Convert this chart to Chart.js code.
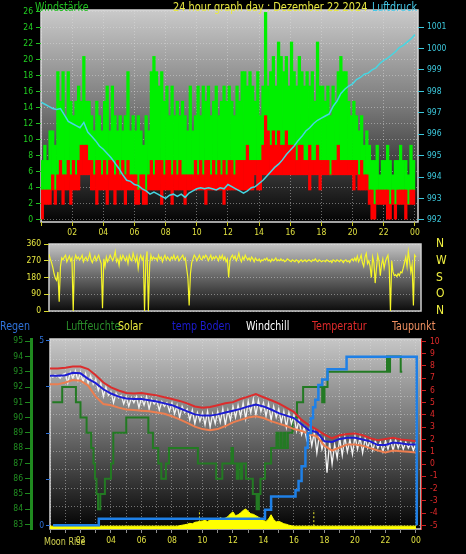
<!DOCTYPE html>
<html lang="de">
<head>
<meta charset="utf-8">
<title>24 hour graph day</title>
<script src="https://cdn.jsdelivr.net/npm/chart.js@4.4.1/dist/chart.umd.min.js"></script>
<style>
  html, body { margin: 0; padding: 0; background: #000; }
  #bild { position: relative; width: 466px; height: 554px; overflow: hidden;
          font-family: 'Liberation Sans Narrow', 'DejaVu Sans Condensed', 'Liberation Sans', sans-serif; }
  canvas { position: absolute; left: 0; }
  .txt { position: absolute; white-space: nowrap; font-size: 12.5px; line-height: 13px;
         transform: scaleX(0.85); transform-origin: left top; }
</style>
</head>
<body>
<div id="bild">
  <canvas id="wind-grafico" width="466" height="245" style="top:0"></canvas>
  <canvas id="richtung-grafico" width="466" height="80" style="top:238px"></canvas>
  <canvas id="wetter-grafico" width="466" height="224" style="top:330px"></canvas>

  <div class="txt" style="left:35px;top:0;color:#22c022">Windstärke</div>
  <div class="txt" style="left:173px;top:0;color:#e8e840;transform:scaleX(0.87)">24 hour graph day : Dezember 22 2024</div>
  <div class="txt" style="left:372px;top:0;color:#44c8e8">Luftdruck</div>

  <div class="txt" style="left:0;top:319px;color:#2f72d8">Regen</div>
  <div class="txt" style="left:66px;top:319px;color:#2a8c2a">Luftfeuchte</div>
  <div class="txt" style="left:118px;top:319px;color:#f0f040">Solar</div>
  <div class="txt" style="left:172px;top:319px;color:#1c1cd0">temp Boden</div>
  <div class="txt" style="left:246px;top:319px;color:#ffffff">Windchill</div>
  <div class="txt" style="left:312px;top:319px;color:#e02a2a">Temperatur</div>
  <div class="txt" style="left:392px;top:319px;color:#f09060">Taupunkt</div>

  <div class="txt" style="left:44px;top:535px;font-size:10.5px;color:#d0d050">Moon Rise</div>
</div>

<script>
const fuente = "'Liberation Sans Narrow', 'DejaVu Sans Condensed', 'Liberation Sans', sans-serif";
Chart.defaults.font.family = fuente;
Chart.defaults.font.size = 8.5;

// Beschriftungen
const stundenBeschriftung = ['', '02', '04', '06', '08', '10', '12', '14', '16', '18', '20', '22', '00'];
const richtungBeschriftung = ['N', 'O', 'S', 'W', 'N'];

// Wind in km/h, alle 10 Minuten
const windBoeen = [
    7.4, 9.3, 7.4, 11.1, 11.1, 9.3,
    18.5, 14.8, 18.5, 13, 18.5, 14.8,
    13, 14.8, 16.7, 14.8, 20.4, 14.8,
    14.8, 13, 11.1, 14.8, 13, 11.1,
    14.8, 16.7, 11.1, 16.7, 13, 11.1,
    13, 11.1, 13, 18.5, 11.1, 13,
    11.1, 13, 11.1, 9.3, 13, 11.1,
    18.5, 20.4, 18.5, 16.7, 18.5, 14.8,
    16.7, 13, 16.7, 13, 14.8, 13,
    14.8, 13, 11.1, 16.7, 11.1, 13,
    16.7, 13, 16.7, 14.8, 16.7, 13,
    14.8, 16.7, 13, 14.8, 16.7, 14.8,
    16.7, 14.8, 13, 16.7, 14.8, 18.5,
    18.5, 16.7, 18.5, 16.7, 14.8, 18.5,
    13, 16.7, 25.9, 16.7, 18.5, 20.4,
    16.7, 22.2, 20.4, 18.5, 20.4, 16.7,
    22.2, 18.5, 16.7, 20.4, 18.5, 16.7,
    18.5, 16.7, 18.5, 14.8, 22.2, 16.7,
    16.7, 14.8, 16.7, 13, 16.7, 14.8,
    18.5, 20.4, 18.5, 18.5, 14.8, 13,
    14.8, 13, 11.1, 13, 9.3, 11.1,
    9.3, 7.4, 7.4, 9.3, 5.6, 7.4,
    7.4, 9.3, 7.4, 5.6, 7.4, 7.4,
    9.3, 7.4, 7.4, 5.6, 9.3, 7.4
];
const windMittel = [
    3.7, 3.7, 3.7, 3.7, 5.6, 3.7,
    5.6, 7.4, 5.6, 5.6, 7.4, 5.6,
    7.4, 5.6, 7.4, 9.3, 9.3, 9.3,
    7.4, 7.4, 5.6, 7.4, 7.4, 5.6,
    7.4, 5.6, 7.4, 7.4, 5.6, 7.4,
    5.6, 7.4, 5.6, 7.4, 5.6, 5.6,
    5.6, 3.7, 5.6, 5.6, 3.7, 5.6,
    7.4, 5.6, 7.4, 7.4, 7.4, 5.6,
    7.4, 7.4, 5.6, 7.4, 5.6, 7.4,
    5.6, 5.6, 5.6, 5.6, 5.6, 7.4,
    5.6, 7.4, 5.6, 7.4, 7.4, 5.6,
    7.4, 5.6, 7.4, 5.6, 7.4, 5.6,
    7.4, 7.4, 5.6, 7.4, 7.4, 7.4,
    7.4, 9.3, 7.4, 7.4, 7.4, 7.4,
    7.4, 9.3, 13, 11.1, 9.3, 11.1,
    9.3, 11.1, 9.3, 9.3, 11.1, 9.3,
    9.3, 9.3, 7.4, 9.3, 9.3, 7.4,
    7.4, 9.3, 7.4, 7.4, 9.3, 7.4,
    7.4, 7.4, 7.4, 5.6, 7.4, 7.4,
    9.3, 7.4, 7.4, 7.4, 7.4, 7.4,
    7.4, 7.4, 5.6, 7.4, 5.6, 5.6,
    3.7, 3.7, 1.9, 3.7, 3.7, 3.7,
    3.7, 3.7, 1.9, 3.7, 1.9, 3.7,
    3.7, 3.7, 3.7, 1.9, 3.7, 3.7
];
const windFlaute = [
    0, 1.9, 1.9, 1.9, 3.7, 1.9,
    3.7, 3.7, 1.9, 3.7, 3.7, 1.9,
    3.7, 3.7, 3.7, 5.6, 5.6, 5.6,
    5.6, 3.7, 3.7, 1.9, 3.7, 3.7,
    3.7, 1.9, 3.7, 3.7, 1.9, 3.7,
    3.7, 3.7, 1.9, 3.7, 3.7, 3.7,
    1.9, 1.9, 3.7, 1.9, 1.9, 3.7,
    3.7, 3.7, 3.7, 3.7, 1.9, 3.7,
    3.7, 3.7, 1.9, 3.7, 3.7, 3.7,
    3.7, 1.9, 3.7, 3.7, 3.7, 3.7,
    3.7, 3.7, 3.7, 1.9, 3.7, 3.7,
    3.7, 3.7, 3.7, 3.7, 1.9, 3.7,
    3.7, 3.7, 3.7, 3.7, 3.7, 3.7,
    3.7, 3.7, 3.7, 3.7, 5.6, 3.7,
    3.7, 5.6, 5.6, 5.6, 5.6, 5.6,
    5.6, 5.6, 5.6, 5.6, 5.6, 5.6,
    5.6, 5.6, 5.6, 5.6, 5.6, 5.6,
    5.6, 3.7, 5.6, 5.6, 5.6, 3.7,
    5.6, 5.6, 5.6, 5.6, 5.6, 5.6,
    5.6, 5.6, 5.6, 5.6, 5.6, 5.6,
    3.7, 5.6, 3.7, 3.7, 3.7, 3.7,
    1.9, 0, 0, 1.9, 1.9, 1.9,
    1.9, 0, 0, 1.9, 0, 1.9,
    1.9, 1.9, 0, 1.9, 1.9, 1.9
];

// Luftdruck hPa, alle 15 Minuten
const luftdruck = [
    997.5, 997.4, 997.3, 997.2,
    997.15, 997.2, 996.9, 996.6,
    996.5, 996.4, 996.3, 996.55,
    996.1, 995.9, 995.7, 995.45,
    995.3, 995.1, 994.9, 994.65,
    994.4, 994.1, 993.85, 993.8,
    993.65, 993.6, 993.45, 993.35,
    993.2, 993.3, 993.2, 993.1,
    993.0, 993.15, 993.2, 993.1,
    993.2, 993.05, 993.25, 993.35,
    993.45, 993.5, 993.45, 993.5,
    993.45, 993.4, 993.5, 993.45,
    993.65, 993.55, 993.45, 993.35,
    993.25, 993.35, 993.5, 993.55,
    993.7, 993.85, 994.05, 994.25,
    994.45, 994.6, 994.8, 995.05,
    995.25, 995.45, 995.7, 995.9,
    996.15, 996.3, 996.5, 996.65,
    996.75, 996.85, 996.95, 997.3,
    997.55, 997.9, 998.1, 998.25,
    998.35, 998.55, 998.65, 998.8,
    998.85, 999.0, 999.1, 999.3,
    999.45, 999.55, 999.7, 999.85,
    1000.05, 1000.15, 1000.3, 1000.45,
    1000.65
];

// Windrichtung Grad, alle 5 Minuten
const windRichtung = [
    305, 280, 260, 235, 200, 175, 165, 210, 50, 240, 285, 275,
    290, 300, 265, 280, 295, 270, 285, 0, 275, 300, 280, 290,
    275, 285, 300, 265, 280, 290, 270, 285, 310, 275, 260, 280,
    295, 270, 285, 300, 275, 255, 15, 280, 240, 290, 265, 280,
    300, 285, 270, 290, 320, 265, 280, 245, 295, 275, 300, 285,
    270, 290, 255, 300, 280, 270, 310, 285, 265, 295, 230, 280,
    300, 275, 290, 0, 270, 320, 0, 250, 300, 275, 290, 280,
    285, 270, 300, 280, 290, 265, 285, 300, 275, 290, 280, 270,
    290, 280, 300, 275, 285, 295, 270, 280, 290, 300, 275, 285,
    230, 180, 30, 200, 260, 280, 300, 290, 270, 285, 300, 280,
    275, 295, 285, 300, 290, 270, 285, 300, 275, 290, 280, 295,
    285, 270, 295, 280, 300, 275, 290, 265, 280, 180, 270, 290,
    300, 280, 295, 270, 285, 310, 280, 265, 290, 275, 300, 285,
    275, 285, 270, 290, 280, 265, 285, 275, 270, 280, 265, 275,
    270, 280, 275, 285, 270, 275, 265, 280, 270, 275, 285, 270,
    275, 270, 280, 270, 275, 265, 270, 280, 275, 270, 265, 275,
    270, 265, 275, 270, 260, 270, 275, 265, 270, 275, 265, 270,
    275, 270, 265, 275, 270, 280, 270, 265, 275, 270, 265, 270,
    270, 265, 275, 270, 265, 270, 260, 275, 270, 265, 275, 270,
    265, 275, 270, 260, 270, 275, 265, 270, 260, 275, 280, 270,
    285, 270, 295, 265, 280, 300, 260, 240, 290, 310, 255, 270,
    240, 180, 290, 260, 150, 230, 300, 270, 190, 250, 280, 230,
    265, 285, 300, 240, 0, 270, 210, 190, 195, 185, 200, 190,
    210, 205, 230, 260, 290, 240, 320, 270, 210, 250, 30, 300,
    290
];

// Temperaturen °C, alle 30 Minuten
const temperatur = [
    7.8, 7.8, 7.85, 7.95, 7.95, 7.75, 7.25, 6.65, 6.25, 6.0, 5.8, 5.75,
    5.8, 5.7, 5.6, 5.45, 5.3, 5.15, 4.95, 4.7, 4.6, 4.65, 4.8, 4.95,
    5.05, 5.3, 5.5, 5.7, 5.45, 5.2, 4.95, 4.6, 4.25, 3.6, 3.15, 2.8,
    2.4, 2.1, 2.35, 2.45, 2.5, 2.35, 2.1, 1.95, 2.05, 2.15, 2.0, 1.95,
    1.85
];
const tempBoden = [
    7.2, 7.2, 7.25, 7.45, 7.4, 6.95, 6.6, 6.1, 5.75, 5.5, 5.35, 5.3,
    5.3, 5.2, 5.1, 4.95, 4.8, 4.55, 4.3, 4.05, 3.95, 3.95, 4.05, 4.2,
    4.35, 4.5, 4.7, 4.85, 4.7, 4.45, 4.15, 3.95, 3.75, 3.25, 2.75, 2.6,
    1.85, 1.8, 2.05, 2.15, 2.15, 2.0, 1.85, 1.55, 1.55, 1.75, 1.7, 1.6,
    1.6
];
const taupunkt = [
    6.5, 6.5, 6.65, 6.85, 6.8, 6.4, 5.5, 4.9, 4.8, 4.6, 4.45, 4.4,
    4.35, 4.3, 4.2, 4.1, 3.9, 3.65, 3.35, 3.05, 2.85, 2.75, 2.85, 3.1,
    3.4, 3.6, 3.8, 3.9, 3.75, 3.5, 3.3, 3.1, 2.85, 2.7, 2.45, 2.25,
    1.5, 1.1, 1.35, 1.6, 1.6, 1.5, 1.3, 1.1, 0.95, 1.1, 1.05, 1.0,
    0.95
];
// Windchill °C, alle 10 Minuten
const windchill = [
    7.3, 7.1, 7.3, 7.2, 7.0, 7.3,
    7.4, 6.6, 7.5, 7.0, 7.6, 6.8,
    7.5, 6.7, 7.4, 6.6, 7.2, 6.5,
    6.9, 6.0, 6.6, 5.5, 6.3, 5.6,
    5.9, 5.0, 5.8, 5.4, 5.6, 4.9,
    5.5, 4.7, 5.4, 5.0, 5.5, 4.6,
    5.4, 4.8, 5.5, 4.5, 5.3, 4.9,
    5.2, 4.4, 5.1, 4.7, 5.0, 4.3,
    5.0, 4.1, 4.8, 3.8, 4.7, 4.2,
    4.5, 3.6, 4.4, 3.3, 4.2, 3.5,
    4.2, 3.2, 4.3, 3.0, 4.1, 3.3,
    4.3, 3.4, 4.5, 3.2, 4.4, 3.6,
    4.7, 3.8, 4.8, 3.9, 5.0, 3.7,
    5.1, 4.2, 5.3, 4.0, 5.2, 4.3,
    5.0, 3.9, 4.9, 3.6, 4.7, 3.8,
    4.5, 3.4, 4.3, 3.0, 4.2, 3.3,
    4.0, 2.7, 3.6, 2.4, 3.0, 2.0,
    2.8, 1.5, 2.6, 0.9, 2.4, 1.2,
    2.0, -0.7, 1.8, 0.0, 1.6, 0.5,
    2.1, 0.7, 2.2, 1.0, 2.0, 0.8,
    2.3, 1.2, 2.2, 0.9, 2.1, 1.3,
    2.0, 1.1, 1.9, 1.3, 1.8, 1.0,
    1.9, 1.2, 2.0, 1.1, 2.0, 1.3,
    1.9, 1.2, 1.8, 1.3, 1.7, 1.1,
    1.8
];

// Luftfeuchte %, Stufen (Beginn in Stunden)
const feuchteZeit = [0.15, 0.8, 1.7, 2.0, 2.4, 2.7, 2.85, 2.95, 3.05, 3.15, 3.3, 3.6, 4.0, 4.15, 5.0,
    6.45, 6.75, 7.1, 7.3, 7.6, 7.8, 9.7, 10.9, 11.3, 11.9, 12.0, 12.25, 12.35, 12.5, 12.6, 12.85,
    13.3, 13.55, 13.6, 13.65, 13.7, 13.8, 14.1, 14.5, 14.85, 14.95, 15.1, 15.2, 15.35, 15.45, 15.6,
    15.9, 16.2, 16.6, 17.85, 17.9, 17.95, 18.0, 18.2, 22.1, 22.15, 22.2, 22.25, 22.3, 23.0, 23.1];
const feuchteWert = [91, 92, 91, 90, 89, 88, 87, 86, 85, 84, 85, 86, 87, 89, 90,
    89, 88, 87, 86, 87, 88, 87, 86, 87, 88, 87, 86, 87, 86, 87, 86,
    85, 84, 85, 84, 85, 86, 87, 88, 89, 88, 89, 88, 89, 88, 89,
    90, 91, 92, 91, 92, 91, 92, 93, 94, 93, 94, 93, 94, 93, 93];

// Regen mm, Stufen (Beginn in Stunden)
const regenZeit = [0.2, 3.2, 14.1, 14.5, 16.1, 16.3, 16.5, 16.75, 16.9, 17.1, 17.25, 17.4, 17.6, 17.85, 18.2, 19.45, 24.05];
const regenWert = [0, 0.18, 0.42, 0.78, 0.95, 1.2, 1.6, 2.1, 2.5, 2.9, 3.2, 3.4, 3.8, 3.95, 4.23, 4.57, 0];

// Solar W/m², alle 10 Minuten
const solar = [
    0, 0, 0, 0, 0, 0,  0, 0, 0, 0, 0, 0,  0, 0, 0, 0, 0, 0,  0, 0, 0, 0, 0, 0,
    0, 0, 0, 0, 0, 0,  0, 0, 0, 0, 0, 0,  0, 0, 0, 0, 0, 0,  0, 0, 0, 0, 0, 0,
    0, 0, 0, 1, 2, 3,
    4, 6, 5, 8, 9, 10,
    11, 12, 10, 13, 14, 16,
    13, 18, 15, 17, 20, 26,
    30, 22, 24, 28, 33, 36,
    31, 26, 25, 22, 19, 16,
    12, 10, 15, 24, 14, 9,
    10, 8, 5, 4, 2, 1,
    0, 0, 0, 0, 0, 0,  0, 0, 0, 0, 0, 0,  0, 0, 0, 0, 0, 0,  0, 0, 0, 0, 0, 0,
    0, 0, 0, 0, 0, 0,  0, 0, 0, 0, 0, 0,  0, 0, 0, 0, 0, 0,  0, 0, 0, 0, 0, 0,
    0
];
const sonnenZeit = [9.8, 17.3];
const sonnenHoehe = [[8, 34], [0, 34]];

// Hintergrund mit Verlauf und heller Rahmen
const hintergrund = {
    id: 'hintergrund',
    beforeDraw(chart, args, opts) {
        const { ctx, chartArea: { left, top, right, bottom } } = chart;
        const verlauf = ctx.createLinearGradient(0, top, 0, bottom);
        verlauf.addColorStop(0, opts.oben);
        verlauf.addColorStop(0.45, opts.mitte);
        verlauf.addColorStop(1, opts.unten);
        ctx.save();
        ctx.fillStyle = verlauf;
        ctx.fillRect(left, top, right - left, bottom - top);
        ctx.strokeStyle = opts.rahmen;
        ctx.lineWidth = 1.5;
        ctx.strokeRect(left, top, right - left, bottom - top);
        ctx.restore();
    }
};

// y-Achsen ohne Zusatzabstand oben/unten, feste Breite
const festeBreite = breite => s => {
    s.width = breite;
    s.paddingTop = 0;
    s.paddingBottom = 0;
};
const festeHoehe = hoehe => s => {
    s.height = hoehe;
    s.paddingLeft = 0;
    s.paddingRight = 0;
};

const gitter = { color: 'rgba(225,225,225,0.45)', lineWidth: 1 };

new Chart(document.getElementById('wind-grafico'), {
    type: 'bar',
    plugins: [hintergrund],
    data: {
        datasets: [
            {
                type: 'line',
                label: 'Luftdruck',
                data: luftdruck.map((v, i) => ({ x: i / 4, y: v })),
                yAxisID: 'yP',
                borderColor: '#46d6e2',
                borderWidth: 1.5,
                pointRadius: 0,
                order: 0
            },
            {
                label: 'Windstärke',
                data: windMittel.map((v, i) => ({ x: (i + 0.5) / 6, y: [windFlaute[i], v] })),
                yAxisID: 'y',
                backgroundColor: '#ff0000',
                grouped: false,
                barPercentage: 1,
                categoryPercentage: 1,
                order: 1
            },
            {
                label: 'Böen',
                data: windBoeen.map((v, i) => ({ x: (i + 0.5) / 6, y: [windMittel[i], v] })),
                yAxisID: 'y',
                backgroundColor: '#00f000',
                grouped: false,
                barPercentage: 1,
                categoryPercentage: 1,
                order: 2
            }
        ]
    },
    options: {
        responsive: false,
        animation: false,
        events: [],
        layout: { padding: { top: 10, left: 0, right: 0, bottom: 0 } },
        plugins: {
            legend: { display: false },
            tooltip: { enabled: false },
            hintergrund: { oben: '#cacaca', mitte: '#7a7a7a', unten: '#040404', rahmen: '#d8d8d8' }
        },
        scales: {
            x: {
                type: 'linear',
                min: 0,
                max: 24.2,
                offset: false,
                afterFit: festeHoehe(23),
                ticks: {
                    stepSize: 2,
                    includeBounds: false,
                    autoSkip: false,
                    maxRotation: 0,
                    padding: 2,
                    color: '#e0e040',
                    callback: v => stundenBeschriftung[v / 2] ?? ''
                },
                grid: { ...gitter, offset: false, tickColor: '#c8c820', tickLength: 4 },
                border: { display: false, dash: [1, 2] }
            },
            y: {
                position: 'left',
                min: -0.3,
                max: 26.2,
                afterFit: festeBreite(41),
                ticks: { stepSize: 2, includeBounds: false, autoSkip: false, padding: 3, color: '#22d022', callback: v => v },
                grid: { ...gitter, tickColor: '#22c022', tickLength: 5 },
                border: { display: false, dash: [1, 2] }
            },
            yP: {
                position: 'right',
                min: 991.9,
                max: 1001.8,
                afterFit: festeBreite(48),
                ticks: { stepSize: 1, includeBounds: false, autoSkip: false, padding: 3, color: '#3cc8dc', callback: v => v },
                grid: { drawOnChartArea: false, tickColor: '#3cc8dc', tickLength: 6 },
                border: { display: false }
            }
        }
    }
});

new Chart(document.getElementById('richtung-grafico'), {
    type: 'line',
    plugins: [hintergrund],
    data: {
        datasets: [{
            label: 'Windrichtung',
            data: windRichtung.map((v, i) => ({ x: i / 12, y: v })),
            borderColor: '#f6f628',
            borderWidth: 1.2,
            pointRadius: 0
        }]
    },
    options: {
        responsive: false,
        animation: false,
        events: [],
        layout: { padding: { top: 6, left: 0, right: 0, bottom: 7 } },
        plugins: {
            legend: { display: false },
            tooltip: { enabled: false },
            hintergrund: { oben: '#c4c4c4', mitte: '#6e6e6e', unten: '#0c0c0c', rahmen: '#cfcfcf' }
        },
        scales: {
            x: { type: 'linear', min: 0, max: 24.33, display: false },
            y: {
                position: 'left',
                min: 0,
                max: 360,
                afterFit: festeBreite(49),
                ticks: { stepSize: 90, autoSkip: false, padding: 3, color: '#e8e840' },
                grid: { ...gitter, tickColor: '#d8d830', tickLength: 5 },
                border: { display: false, dash: [1, 2] }
            },
            yN: {
                position: 'right',
                min: 0,
                max: 360,
                afterFit: festeBreite(45),
                ticks: {
                    stepSize: 90,
                    autoSkip: false,
                    padding: 15,
                    color: '#f0f040',
                    font: { size: 12 },
                    callback: v => richtungBeschriftung[v / 90]
                },
                grid: { drawOnChartArea: false, drawTicks: false },
                border: { display: false }
            }
        }
    }
});

new Chart(document.getElementById('wetter-grafico'), {
    type: 'line',
    plugins: [hintergrund],
    data: {
        datasets: [
            {
                label: 'Regen',
                data: regenZeit.map((t, i) => ({ x: t, y: regenWert[i] })),
                yAxisID: 'yR',
                stepped: true,
                borderColor: '#1f80e6',
                borderWidth: 2.5,
                pointRadius: 0,
                order: 0
            },
            {
                label: 'Temperatur',
                data: temperatur.map((v, i) => ({ x: i / 2, y: v })),
                yAxisID: 'yT',
                borderColor: '#dc2c2c',
                borderWidth: 2,
                pointRadius: 0,
                order: 1
            },
            {
                label: 'temp Boden',
                data: tempBoden.map((v, i) => ({ x: i / 2, y: v })),
                yAxisID: 'yT',
                borderColor: '#1c1cd4',
                borderWidth: 2,
                pointRadius: 0,
                order: 2
            },
            {
                label: 'Taupunkt',
                data: taupunkt.map((v, i) => ({ x: i / 2, y: v })),
                yAxisID: 'yT',
                borderColor: '#ec7e50',
                borderWidth: 2,
                pointRadius: 0,
                order: 3
            },
            {
                label: 'Windchill',
                data: windchill.map((v, i) => ({ x: i / 6, y: v })),
                yAxisID: 'yT',
                borderColor: '#f4f4f4',
                borderWidth: 1.3,
                pointRadius: 0,
                order: 4
            },
            {
                label: 'Luftfeuchte',
                data: feuchteZeit.map((t, i) => ({ x: t, y: feuchteWert[i] })),
                yAxisID: 'yH',
                stepped: true,
                borderColor: '#237a23',
                borderWidth: 2,
                pointRadius: 0,
                order: 5
            },
            {
                label: 'Sonnenaufgang',
                data: sonnenHoehe[0].map(h => ({ x: sonnenZeit[0], y: h })),
                yAxisID: 'ySol',
                borderColor: '#e8e830',
                borderWidth: 1,
                borderDash: [2, 2],
                pointRadius: 0,
                order: 6
            },
            {
                label: 'Sonnenuntergang',
                data: sonnenHoehe[1].map(h => ({ x: sonnenZeit[1], y: h })),
                yAxisID: 'ySol',
                borderColor: '#e8e830',
                borderWidth: 1,
                borderDash: [2, 2],
                pointRadius: 0,
                order: 6
            },
            {
                label: 'Solar',
                data: solar.map((v, i) => ({ x: i / 6, y: v })),
                yAxisID: 'ySol',
                borderColor: '#ffff00',
                borderWidth: 1,
                backgroundColor: '#ffff00',
                fill: 'start',
                pointRadius: 0,
                order: 7
            }
        ]
    },
    options: {
        responsive: false,
        animation: false,
        events: [],
        layout: { padding: { top: 9, left: 0, right: 0, bottom: 0 } },
        plugins: {
            legend: { display: false },
            tooltip: { enabled: false },
            hintergrund: { oben: '#c6c6c6', mitte: '#757575', unten: '#020202', rahmen: '#d4d4d4' }
        },
        scales: {
            x: {
                type: 'linear',
                min: 0,
                max: 24.33,
                afterFit: festeHoehe(25),
                ticks: {
                    stepSize: 1,
                    includeBounds: false,
                    autoSkip: false,
                    maxRotation: 0,
                    padding: 3,
                    color: '#e0e040',
                    callback: v => v % 2 === 0 ? stundenBeschriftung[v / 2] : ''
                },
                grid: { ...gitter, tickColor: '#909090', tickLength: 4 },
                border: { display: false, dash: [1, 2] }
            },
            yH: {
                position: 'left',
                weight: 2,
                min: 82.7,
                max: 95.15,
                afterFit: festeBreite(31),
                ticks: { stepSize: 1, includeBounds: false, autoSkip: false, padding: 2, color: '#229022' },
                grid: { drawOnChartArea: false, tickColor: '#1f8a1f', tickLength: 6 },
                border: { color: '#1f8a1f', width: 3 }
            },
            yR: {
                position: 'left',
                weight: 1,
                min: -0.1,
                max: 5.05,
                afterFit: festeBreite(19),
                ticks: {
                    stepSize: 1.25,
                    includeBounds: false,
                    autoSkip: false,
                    padding: 2,
                    color: '#2f72d8',
                    callback: v => (v === 0 || v === 5) ? v : ''
                },
                grid: { drawOnChartArea: false, tickColor: '#2f72d8', tickLength: 4 },
                border: { display: false }
            },
            yG: {
                position: 'left',
                weight: 0,
                min: -0.2,
                max: 10.1,
                afterFit: festeBreite(0),
                ticks: { display: false, stepSize: 1, includeBounds: false },
                grid: { ...gitter, drawTicks: false },
                border: { display: false, dash: [1, 2] }
            },
            yT: {
                position: 'right',
                min: -5.3,
                max: 10.2,
                afterFit: festeBreite(45),
                ticks: { stepSize: 1, includeBounds: false, autoSkip: false, padding: 4, color: '#e02a2a' },
                grid: { drawOnChartArea: false, tickColor: '#d02020', tickLength: 5 },
                border: { color: '#d02020', width: 1 }
            },
            ySol: { display: false, min: -6, max: 394 }
        }
    }
});
</script>
</body>
</html>
